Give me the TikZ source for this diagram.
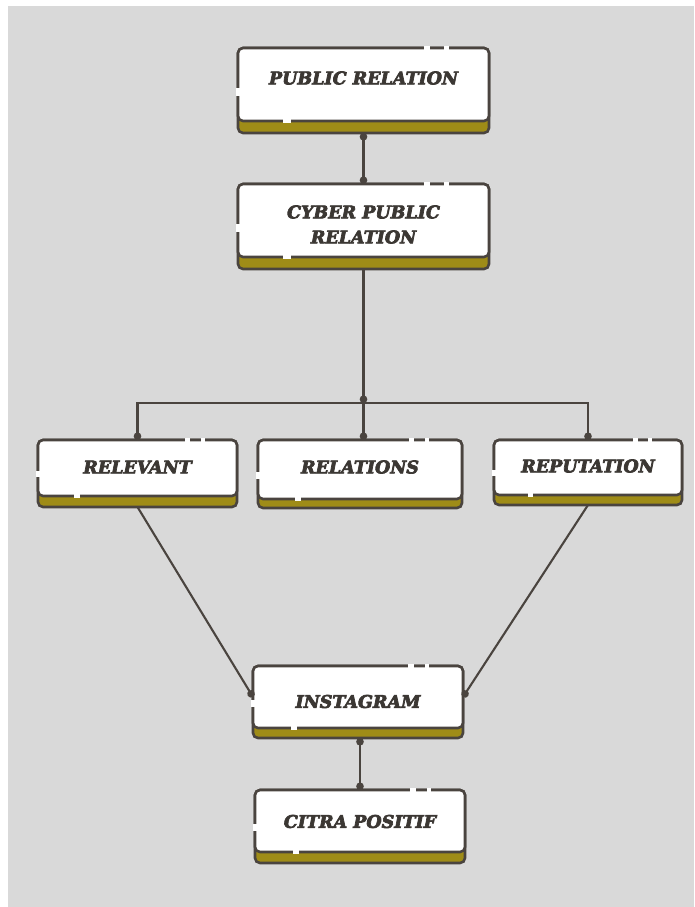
\documentclass[tikz,border=0pt]{standalone}
\usepackage{fontspec}
\setmainfont{DejaVu Serif}
\newfontfamily\heavyfont[FakeBold=4]{DejaVu Serif Bold Italic}
\usetikzlibrary{calc,arrows.meta}
\definecolor{bg}{HTML}{D9D9D9}
\definecolor{edge}{HTML}{4A443F}
\definecolor{gold}{HTML}{9F8C17}
\definecolor{ink}{HTML}{3B3733}
\tikzset{
  band/.style={draw=edge, line width=2.6pt, fill=gold, rounded corners=5pt, inner sep=0pt, outer sep=0pt},
  wbox/.style={draw=edge, line width=2.6pt, fill=white, rounded corners=5pt, inner sep=0pt, outer sep=0pt},
  lbl/.style={font=\heavyfont\fontsize{17.5}{25}\selectfont, text=ink, align=center, inner sep=0pt},
  gapline/.style={draw=white, line width=3.4pt},
  conn/.style={draw=edge, line width=2.1pt},
  dotend/.style={-{Circle[length=7.5pt]}},
  dotboth/.style={{Circle[length=7.5pt]}-{Circle[length=7.5pt]}}
}
% #1 name, #2 cx, #3 top, #4 width, #5 white height, #6 total height, #7 text y, #8 text
\newcommand\gbox[8]{%
  \node[band, minimum width=#4, minimum height=#6] (#1b) at (#2, #3+#6/2) {};
  \node[wbox, minimum width=#4, minimum height=#5, anchor=north] (#1) at (#1b.north) {};
  \draw[gapline] ($(#1.north west)!0.74!(#1.north east)$) -- ($(#1.north west)!0.765!(#1.north east)$);
  \draw[gapline] ($(#1.north west)!0.82!(#1.north east)$) -- ($(#1.north west)!0.84!(#1.north east)$);
  \draw[gapline] ($(#1.north west)!0.55!(#1.south west)$) -- ($(#1.north west)!0.66!(#1.south west)$);
  \draw[gapline] ($(#1.south west)!0.18!(#1.south east)$) -- ($(#1.south west)!0.21!(#1.south east)$);
  \node[lbl] (#1t) at (#2, #7) {#8};
}
\begin{document}
\begin{tikzpicture}[x=1pt,y=-1pt]
\useasboundingbox (0,0) rectangle (694,907);
\fill[white] (0,0) rectangle (694,907);
\fill[bg] (8,6) rectangle (694,907);

\gbox{pr}{363.5}{48}{251}{73}{85}{78}{PUBLIC RELATION}
\gbox{cpr}{363.5}{184}{251}{73}{85}{224.5}{CYBER PUBLIC\\RELATION}
\gbox{relv}{137.5}{440}{199}{56}{67}{467}{RELEVANT}
\gbox{rels}{360}{440}{204}{59}{68}{467}{RELATIONS}
\gbox{repu}{588}{440}{188}{55}{65}{466}{REPUTATION}
\gbox{insta}{358}{666}{210}{62}{72}{701.5}{INSTAGRAM}
\gbox{citra}{360}{790}{210}{62}{73}{821.5}{CITRA POSITIF}

\coordinate (j) at (363.5,403);
\draw[conn,dotboth] (prb.south) -- (cpr.north);
\draw[conn,dotend] (cprb.south) -- (j);
\draw[conn,dotend] (j) -| (relv.north);
\draw[conn,dotend] (j) -- (rels.north -| j);
\draw[conn,dotend] (j) -| (repu.north);
\draw[conn,dotend] (relvb.south) -- (insta.west);
\draw[conn,dotend] (repub.south) -- (insta.east);
\draw[conn,dotboth] (instab.south -| citra.north) -- (citra.north);
\end{tikzpicture}
\end{document}
